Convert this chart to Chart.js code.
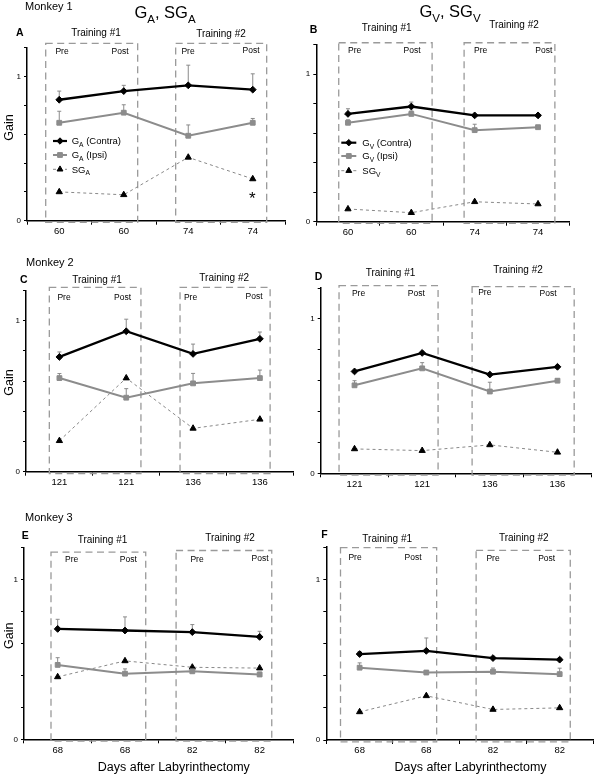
<!DOCTYPE html>
<html>
<head>
<meta charset="utf-8">
<script src="https://cdn.jsdelivr.net/npm/chart.js@4.4.0/dist/chart.umd.min.js"></script>
<style>
  body { margin: 0; background: #fff; }
  #wrap { position: relative; width: 598px; height: 774px; }
  #wrap canvas { position: absolute; left: 0; top: 0; }
</style>
</head>
<body>
<div id="wrap">
  <canvas id="cA" width="598" height="774"></canvas>
  <canvas id="cB" width="598" height="774"></canvas>
  <canvas id="cC" width="598" height="774"></canvas>
  <canvas id="cD" width="598" height="774"></canvas>
  <canvas id="cE" width="598" height="774"></canvas>
  <canvas id="cF" width="598" height="774"></canvas>
</div>
<script>
// x categories (days after labyrinthectomy)
const days1 = ['60', '60', '74', '74'];
const days2 = ['121', '121', '136', '136'];
const days3 = ['68', '68', '82', '82'];
const yTicksShown = [0, 1];

// Monkey 1 - G_A / SG_A
const aContra = [0.84, 0.90, 0.94, 0.91];
const aContraErr = [0.06, 0.04, 0.14, 0.11];
const aIpsi = [0.68, 0.75, 0.59, 0.68];
const aIpsiErr = [0.08, 0.055, 0.075, 0.03];
const aSG = [0.20, 0.18, 0.44, 0.29];

// Monkey 1 - G_V / SG_V
const bContra = [0.73, 0.78, 0.72, 0.72];
const bContraErr = [0.035, 0.03, 0, 0];
const bIpsi = [0.67, 0.73, 0.62, 0.64];
const bIpsiErr = [0.02, 0.02, 0.04, 0];
const bSG = [0.086, 0.061, 0.135, 0.12];

// Monkey 2
const cContra = [0.76, 0.93, 0.78, 0.88];
const cContraErr = [0.033, 0.08, 0.065, 0.045];
const cIpsi = [0.62, 0.49, 0.585, 0.62];
const cIpsiErr = [0.03, 0.06, 0.066, 0.053];
const cSG = [0.205, 0.62, 0.287, 0.347];

const dContra = [0.66, 0.78, 0.64, 0.69];
const dContraErr = [0, 0.01, 0, 0];
const dIpsi = [0.57, 0.68, 0.53, 0.60];
const dIpsiErr = [0.03, 0.037, 0.06, 0.01];
const dSG = [0.158, 0.147, 0.184, 0.136];

// Monkey 3
const eContra = [0.69, 0.68, 0.67, 0.64];
const eContraErr = [0.06, 0.085, 0.047, 0.035];
const eIpsi = [0.465, 0.41, 0.425, 0.405];
const eIpsiErr = [0.045, 0.03, 0.02, 0.015];
const eSG = [0.39, 0.49, 0.45, 0.445];

const fContra = [0.535, 0.555, 0.51, 0.50];
const fContraErr = [0.015, 0.08, 0, 0.01];
const fIpsi = [0.45, 0.42, 0.425, 0.41];
const fIpsiErr = [0.03, 0, 0.023, 0.037];
const fSG = [0.175, 0.275, 0.19, 0.20];

const FAM = '"Liberation Sans", Arial, sans-serif';
Chart.defaults.font.family = FAM;
const AXW = 20, AXH = 20;
const GRAY = '#8c8c8c';

function fnt(size, bold) { return (bold ? 'bold ' : '') + size + 'px ' + FAM; }

// "_X" makes X a subscript
function parseRich(s) {
  const parts = [];
  let buf = '';
  for (let i = 0; i < s.length; i++) {
    if (s[i] === '_') {
      if (buf) parts.push({ t: buf, sub: false });
      buf = '';
      parts.push({ t: s[i + 1], sub: true });
      i++;
    } else buf += s[i];
  }
  if (buf) parts.push({ t: buf, sub: false });
  return parts;
}

function drawRich(ctx, s, x, y, size, align, bold) {
  const parts = parseRich(s);
  let w = 0;
  parts.forEach(p => { ctx.font = fnt(p.sub ? size * 0.7 : size, bold); w += ctx.measureText(p.t).width; });
  let cx = align === 'center' ? x - w / 2 : x;
  ctx.textAlign = 'left';
  ctx.textBaseline = 'alphabetic';
  parts.forEach(p => {
    ctx.font = fnt(p.sub ? size * 0.7 : size, bold);
    ctx.fillText(p.t, cx, p.sub ? y + size * 0.3 : y);
    cx += ctx.measureText(p.t).width;
  });
}

function decor(o) {
  return {
    id: 'decor',
    beforeDatasetsDraw(chart) {
      const ctx = chart.ctx, xs = chart.scales.x, ys = chart.scales.y;
      ctx.save();
      // dashed training boxes
      ctx.strokeStyle = '#9a9a9a';
      ctx.lineWidth = 1.3;
      ctx.setLineDash([7, 4.5]);
      o.boxes.forEach(b => {
        const x0 = xs.getPixelForValue(b[0]), x1 = xs.getPixelForValue(b[1]);
        const y0 = ys.getPixelForValue(b[2]), y1 = ys.getPixelForValue(-0.012);
        ctx.strokeRect(x0, y0, x1 - x0, y1 - y0);
      });
      ctx.setLineDash([]);
      // upward error bars
      ctx.strokeStyle = '#8a8a8a';
      ctx.lineWidth = 1;
      chart.data.datasets.forEach((ds, i) => {
        if (!ds.err) return;
        chart.getDatasetMeta(i).data.forEach((pt, j) => {
          const e = ds.err[j];
          if (!e) return;
          const yt = ys.getPixelForValue(ds.data[j] + e);
          ctx.beginPath();
          ctx.moveTo(pt.x, pt.y);
          ctx.lineTo(pt.x, yt);
          ctx.moveTo(pt.x - 2, yt);
          ctx.lineTo(pt.x + 2, yt);
          ctx.stroke();
        });
      });
      ctx.restore();
    },
    afterDraw(chart) {
      const ctx = chart.ctx;
      ctx.save();
      ctx.fillStyle = '#000';
      o.texts.forEach(t => drawRich(ctx, t[0], t[1], t[2], t[3], t[4] || 'center', t[5]));
      if (o.gain) {
        ctx.save();
        ctx.translate(o.gain[0], o.gain[1]);
        ctx.rotate(-Math.PI / 2);
        ctx.font = fnt(12.5);
        ctx.textAlign = 'center';
        ctx.textBaseline = 'alphabetic';
        ctx.fillText('Gain', 0, 0);
        ctx.restore();
      }
      if (o.legend) {
        const L = o.legend, sub = L.sub;
        const rows = [
          { txt: 'G_' + sub + ' (Contra)', color: '#000', w: 2.2, dash: [], style: 'rectRot', r: 3.2, fill: '#000' },
          { txt: 'G_' + sub + ' (Ipsi)', color: GRAY, w: 2, dash: [], style: 'rect', r: 3.4, fill: GRAY },
          { txt: 'SG_' + sub, color: '#888', w: 1, dash: [3, 3], style: 'triangle', r: 3.4, fill: '#000' }
        ];
        rows.forEach((r, k) => {
          const y = L.ys[k];
          ctx.strokeStyle = r.color;
          ctx.lineWidth = r.w;
          ctx.setLineDash(r.dash);
          ctx.beginPath();
          ctx.moveTo(L.x0, y);
          ctx.lineTo(L.x1, y);
          ctx.stroke();
          ctx.setLineDash([]);
          ctx.fillStyle = r.fill;
          ctx.strokeStyle = r.fill;
          ctx.lineWidth = 1;
          Chart.helpers.drawPoint(ctx, { pointStyle: r.style, radius: r.r, borderWidth: 1, rotation: 0 }, (L.x0 + L.x1) / 2, y);
          ctx.fillStyle = '#000';
          drawRich(ctx, r.txt, L.tx, y + 3.3, 9.5, 'left');
        });
      }
      ctx.restore();
    }
  };
}

function makePanel(id, o) {
  const a = o.area; // left, right, top, bottom of the plot area
  new Chart(document.getElementById(id), {
    type: 'line',
    data: {
      labels: o.labels,
      datasets: [
        { label: 'Contra', data: o.contra, err: o.contraErr, borderColor: '#000', backgroundColor: '#000',
          borderWidth: 2.3, pointStyle: 'rectRot', pointRadius: 3.4, pointBorderWidth: 1, tension: 0 },
        { label: 'Ipsi', data: o.ipsi, err: o.ipsiErr, borderColor: GRAY, backgroundColor: GRAY,
          borderWidth: 2, pointStyle: 'rect', pointRadius: 3.4, pointBorderWidth: 1, tension: 0 },
        { label: 'SG', data: o.sg, borderColor: '#888', backgroundColor: '#000', pointBorderColor: '#000',
          borderWidth: 1, borderDash: [3, 3], pointStyle: 'triangle', pointRadius: 3.6, pointBorderWidth: 1, tension: 0 }
      ]
    },
    options: {
      responsive: false,
      animation: false,
      events: [],
      layout: { padding: { left: a[0] - AXW, right: 598 - a[1], top: a[2], bottom: 774 - a[3] - AXH } },
      plugins: { legend: { display: false }, tooltip: { enabled: false } },
      scales: {
        x: {
          offset: true,
          grid: { offset: true, drawOnChartArea: false, tickLength: 4, color: '#000', lineWidth: 1 },
          border: { color: '#000', width: 1.5 },
          ticks: { color: '#000', font: { size: 9.5 }, padding: 1, maxRotation: 0, autoSkip: false },
          afterFit: s => { s.height = AXH; }
        },
        y: {
          min: 0, max: 1.2,
          grid: { drawOnChartArea: false, tickLength: 3, color: '#000', lineWidth: 1 },
          border: { color: '#000', width: 1.5 },
          ticks: {
            stepSize: 0.2, color: '#000', font: { size: 8 }, padding: 3,
            callback: v => yTicksShown.find(t => Math.abs(t - v) < 1e-6) !== undefined ? String(Math.round(v)) : ''
          },
          afterFit: s => { s.width = AXW; }
        }
      }
    },
    plugins: [decor(o)]
  });
}

makePanel('cA', {
  labels: days1, contra: aContra, contraErr: aContraErr, ipsi: aIpsi, ipsiErr: aIpsiErr, sg: aSG,
  area: [27, 285, 47.9, 220.7],
  boxes: [[-0.21, 1.216, 1.232], [1.805, 3.216, 1.232]],
  gain: [12.7, 127.5],
  legend: { sub: 'A', x0: 53, x1: 67, tx: 71.7, ys: [141, 155, 169.3] },
  texts: [
    ['Monkey 1', 25, 9.5, 11, 'left'],
    ['G_A, SG_A', 165, 18.3, 16.5],
    ['A', 16, 36, 10.5, 'left', true],
    ['Training #1', 96, 36, 10],
    ['Training #2', 221, 37.3, 10],
    ['Pre', 62, 54, 8.5], ['Post', 120, 54, 8.5],
    ['Pre', 188, 54, 8.5], ['Post', 251, 53, 8.5],
    ['*', 252.3, 204, 17]
  ]
});

makePanel('cB', {
  labels: days1, contra: bContra, contraErr: bContraErr, ipsi: bIpsi, ipsiErr: bIpsiErr, sg: bSG,
  area: [316.3, 569.7, 44.5, 221.7],
  boxes: [[-0.146, 1.328, 1.212], [1.833, 3.266, 1.212]],
  legend: { sub: 'V', x0: 341.3, x1: 356.3, tx: 362.3, ys: [142.7, 156, 170.7] },
  texts: [
    ['G_V, SG_V', 450, 16.7, 16.5],
    ['B', 309.7, 33.3, 10.5, 'left', true],
    ['Training #1', 386.7, 30.7, 10],
    ['Training #2', 514, 28.3, 10],
    ['Pre', 354.7, 53.3, 8.5], ['Post', 412, 53.3, 8.5],
    ['Pre', 480.7, 53.3, 8.5], ['Post', 543.8, 52.7, 8.5]
  ]
});

makePanel('cC', {
  labels: days2, contra: cContra, contraErr: cContraErr, ipsi: cIpsi, ipsiErr: cIpsiErr, sg: cSG,
  area: [26, 293.3, 290.5, 471.7],
  boxes: [[-0.151, 1.22, 1.221], [1.805, 3.153, 1.221]],
  gain: [12.7, 382.5],
  texts: [
    ['Monkey 2', 26, 266, 11, 'left'],
    ['C', 20, 283.3, 10.5, 'left', true],
    ['Training #1', 97, 283.3, 10],
    ['Training #2', 224.2, 280.7, 10],
    ['Pre', 64, 300, 8.5], ['Post', 122.5, 300, 8.5],
    ['Pre', 190.5, 300, 8.5], ['Post', 254, 299, 8.5]
  ]
});

makePanel('cD', {
  labels: days2, contra: dContra, contraErr: dContraErr, ipsi: dIpsi, ipsiErr: dIpsiErr, sg: dSG,
  area: [320.7, 591.3, 288.1, 473.3],
  boxes: [[-0.229, 1.235, 1.216], [1.738, 3.247, 1.21]],
  texts: [
    ['D', 314.7, 280, 10.5, 'left', true],
    ['Training #1', 390.5, 275.7, 10],
    ['Training #2', 518, 273.3, 10],
    ['Pre', 358.5, 296, 8.5], ['Post', 416.3, 296, 8.5],
    ['Pre', 484.8, 295, 8.5], ['Post', 548, 296, 8.5]
  ]
});

makePanel('cE', {
  labels: days3, contra: eContra, contraErr: eContraErr, ipsi: eIpsi, ipsiErr: eIpsiErr, sg: eSG,
  area: [24, 293.3, 547.3, 739.3],
  boxes: [[-0.099, 1.308, 1.17], [1.759, 3.18, 1.18]],
  gain: [12.7, 635.8],
  texts: [
    ['Monkey 3', 25, 521, 11, 'left'],
    ['E', 21.7, 539.3, 10.5, 'left', true],
    ['Training #1', 102.5, 543.3, 10],
    ['Training #2', 230, 541, 10],
    ['Pre', 71.7, 562.3, 8.5], ['Post', 128.3, 562.3, 8.5],
    ['Pre', 197, 562.3, 8.5], ['Post', 260, 561, 8.5],
    ['Days after Labyrinthectomy', 173.8, 771, 12.5]
  ]
});

makePanel('cF', {
  labels: days3, contra: fContra, contraErr: fContraErr, ipsi: fIpsi, ipsiErr: fIpsiErr, sg: fSG,
  area: [326.3, 596.3, 547.2, 740],
  boxes: [[-0.287, 1.155, 1.197], [1.747, 3.159, 1.18]],
  texts: [
    ['F', 321.3, 538.3, 10.5, 'left', true],
    ['Training #1', 387.2, 541.7, 10],
    ['Training #2', 523.8, 541, 10],
    ['Pre', 355, 560, 8.5], ['Post', 413, 560, 8.5],
    ['Pre', 493, 560.7, 8.5], ['Post', 546.7, 560.7, 8.5],
    ['Days after Labyrinthectomy', 470.5, 771, 12.5]
  ]
});
</script>
</body>
</html>
